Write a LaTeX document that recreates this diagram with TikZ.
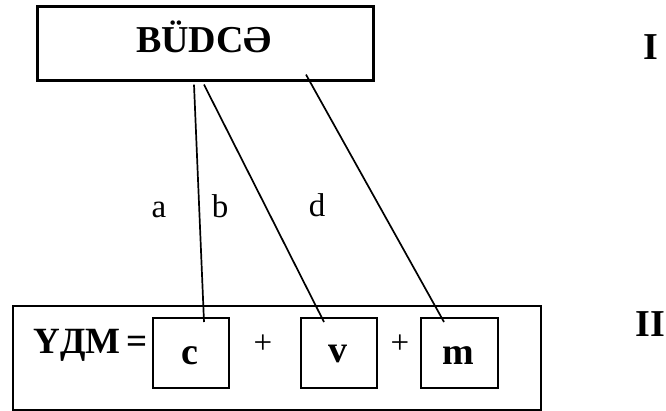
\documentclass[tikz,border=0pt]{standalone}
\usepackage{fontspec}
\setmainfont{Liberation Serif}
\usetikzlibrary{calc}
\begin{document}
\begin{tikzpicture}[x=1pt,y=-1pt,
  box/.style={draw, line width=2.2pt, inner sep=0pt, anchor=north west},
  big/.style={font=\fontsize{38}{44}\selectfont\bfseries, inner sep=0pt},
  lab/.style={font=\fontsize{33}{40}\selectfont, inner sep=0pt},
  link/.style={line width=1.7pt}]
\useasboundingbox (0,0) rectangle (666,411);
% boxes
\node[box, line width=2.6pt, minimum width=336pt, minimum height=74pt] (top) at (36,5) {};
\node[box, minimum width=528pt, minimum height=104pt] (eq) at (12,305) {};
\node[box, minimum width=76pt, minimum height=70pt] (c) at (152,317) {};
\node[box, minimum width=76pt, minimum height=70pt] (v) at (300,317) {};
\node[box, minimum width=77pt, minimum height=70pt] (m) at (420,317) {};
% texts
\node[big, anchor=base] (tt) at (204,53) {BÜDCƏ};
\node[big, anchor=base east, font=\fontsize{37}{44}\selectfont\bfseries] (ydm) at (148,353) {ҮДМ\,=};
\node[big, anchor=base] (ct) at (190,364) {c};
\node[big, anchor=base] (vt) at (338,362) {v};
\node[big, anchor=base] (mt) at (458.5,364) {m};
\node[lab] (p1) at (263,344) {+};
\node[lab] (p2) at (400,344) {+};
\node[big, anchor=base] (r1) at (651,60) {I};
\node[big, anchor=base] (r2) at (650,337) {II};
\node[lab, anchor=base] (la) at (159,218) {a};
\node[lab, anchor=base] (lb) at (220,218) {b};
\node[lab, anchor=base] (ld) at (317,217) {d};
% connectors
\coordinate (a1) at ($(top.south west)+(158,3)$);
\coordinate (a2) at ($(c.north west)+(52,5)$);
\coordinate (b1) at ($(top.south west)+(168,3)$);
\coordinate (b2) at ($(v.north west)+(24,5)$);
\coordinate (d1) at ($(top.south west)+(270,-7)$);
\coordinate (d2) at ($(m.north west)+(24,5)$);
\draw[link] (a1) -- (a2);
\draw[link] (b1) -- (b2);
\draw[link] (d1) -- (d2);
\end{tikzpicture}
\end{document}
